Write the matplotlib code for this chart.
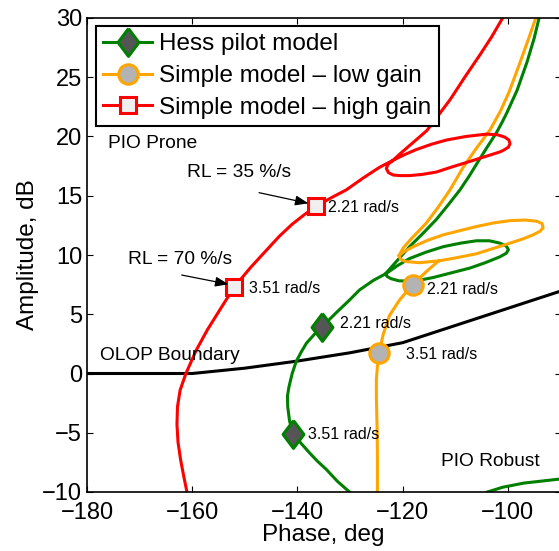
import numpy as np
import matplotlib
matplotlib.use('Agg')
import matplotlib.pyplot as plt

plt.rcParams['font.family'] = ['Liberation Sans', 'DejaVu Sans']

# Hess pilot model (phase in deg, amplitude in dB); NaN splits the pieces
hess_phase = [-130.1, -132.4, -134.5, -136.2, -137.7, -139.3, -140.8, -141.5, -141.85, -141.9,
              -141.6, -141.0, -140.25, -139.3, -138.3, -136.8, -135.3, -132.7, -130.1, -128.2,
              -125.6, -123.1, -121.0, -118.7, -115.5, -112.3, -109.0, -106.0, -103.5, -101.5,
              -100.3, -99.9, -100.3, -101.5, -104.3, -107.2, -110.7, -114.2, -116.5, -118.7,
              -120.7, -122.2, -123.0, -123.2, -121.0, -118.7, -116.2, -113.6, -111.4, -109.1,
              -107.3, -105.5, -103.8, -102.2, -101.1, -100.2, -98.25, -96.35, -95.0, -94.07,
              np.nan, -103.9, -101.0, -97.0, -90.0]
hess_amp = [-10.0, -9.1, -8.1, -7.4, -6.7, -5.9, -5.1, -4.0, -2.8, -1.9,
            -1.1, 0.0, 1.0, 1.8, 2.55, 3.3, 3.95, 5.1, 6.2, 7.05,
            7.85, 8.45, 9.1, 9.7, 10.25, 10.7, 11.0, 11.2, 11.2, 11.0,
            10.75, 10.45, 10.15, 9.85, 9.35, 8.9, 8.5, 8.1, 7.9, 7.8,
            7.82, 8.0, 8.2, 8.45, 9.55, 10.7, 11.8, 13.0, 14.2, 15.5,
            16.7, 18.0, 19.2, 20.3, 21.2, 22.0, 23.9, 26.3, 28.3, 30.0,
            np.nan, -10.0, -9.6, -9.25, -8.9]

# Simple model - low gain
low_phase = [-124.8, -124.8, -124.85, -125.0, -125.0, -124.8, -124.5, -123.7, -122.5, -120.6,
             -118.1, -115.5, -113.2, -110.0, -106.0, -102.8, -99.6, -97.2, -95.2, -93.9,
             -93.3, -93.5, -94.5, -96.8, -99.6, -102.8, -106.0, -109.2, -112.3, -115.2,
             -118.0, -119.7, -120.7, -119.9, -118.3, -117.0, -115.5, -113.3, -111.0, -108.5,
             -106.0, -103.4, -101.5, -99.77, -97.87, -96.16, -94.7,
             np.nan, -120.7, -120.4, -119.5, -116.8, -113.2]
low_amp = [-10.0, -7.0, -4.8, -2.0, -0.55, 0.6, 1.7, 3.3, 4.9, 6.2,
           7.5, 8.6, 9.5, 9.75, 10.1, 10.55, 11.0, 11.35, 11.7, 12.0,
           12.3, 12.65, 12.85, 12.95, 12.9, 12.7, 12.4, 12.05, 11.7, 11.25,
           10.7, 10.3, 9.94, 10.6, 11.4, 12.0, 12.7, 14.0, 15.5, 17.4,
           19.0, 20.55, 22.07, 23.76, 26.03, 28.14, 30.0,
           np.nan, 9.94, 9.65, 9.45, 9.35, 9.5]

# Simple model - high gain
high_phase = [-161.0, -161.6, -162.2, -162.7, -162.9, -162.8, -162.3, -161.2, -159.2, -157.1,
              -154.5, -152.0, -149.0, -145.9, -143.4, -141.0, -138.7, -136.5, -133.5, -130.7,
              -127.5, -124.4, -121.8, -119.5, -117.4, -114.5, -111.7, -108.0, -104.1, -102.0,
              -100.6, -99.8, -99.6, -99.9, -100.8, -101.5, -104.0, -107.2, -110.5, -113.6,
              -116.3, -118.7, -120.5, -121.8, -122.7, -123.1, -122.8, -121.8, -120.6, -118.0,
              -115.4, -113.2, -111.0, -108.2, -105.3, -103.1, -101.0]
high_amp = [-10.0, -8.7, -7.3, -5.8, -4.3, -2.8, -1.4, 0.0, 2.0, 3.7,
            5.55, 7.3, 8.9, 10.4, 11.6, 12.6, 13.4, 14.1, 14.85, 15.5,
            16.5, 17.4, 18.0, 18.5, 18.9, 19.35, 19.7, 20.0, 20.2, 20.15,
            19.95, 19.7, 19.4, 19.1, 18.85, 18.7, 18.35, 17.9, 17.45, 17.0,
            16.8, 16.7, 16.7, 16.75, 16.95, 17.3, 17.65, 18.0, 18.5, 19.5,
            20.5, 21.8, 23.1, 25.0, 26.9, 28.4, 30.0]

# OLOP boundary
olop_phase = [-180, -160, -150, -140, -130, -120, -90]
olop_amp = [0.0, 0.0, 0.45, 1.05, 1.75, 2.6, 6.95]

# marked frequencies
hess_mk_phase = [-135.3, -140.8]
hess_mk_amp = [3.95, -5.1]
low_mk_phase = [-118.1, -124.5]
low_mk_amp = [7.5, 1.7]
high_mk_phase = [-136.5, -152.0]
high_mk_amp = [14.1, 7.3]

GREEN = '#008000'
ORANGE = '#ffa500'
RED = '#ff0000'
diamond = [(0, 1), (0.75, 0), (0, -1), (-0.75, 0), (0, 1)]

fig = plt.figure(figsize=(5.59, 5.51), dpi=100)
ax = fig.add_axes([87 / 559, 59 / 551, 473.5 / 559, 474 / 551])

ax.plot(olop_phase, olop_amp, color='k', lw=2.2)
ax.plot(hess_phase, hess_amp, color=GREEN, lw=2.2)
ax.plot(low_phase, low_amp, color=ORANGE, lw=2.2)
ax.plot(high_phase, high_amp, color=RED, lw=2.2)

ax.plot(hess_mk_phase, hess_mk_amp, ls='none', marker=diamond, ms=20,
        mfc='#555555', mec=GREEN, mew=2.2)
ax.plot(low_mk_phase, low_mk_amp, ls='none', marker='o', ms=14,
        mfc='#b3b3b3', mec=ORANGE, mew=2.2)
ax.plot(high_mk_phase, high_mk_amp, ls='none', marker='s', ms=11,
        mfc='#efefef', mec=RED, mew=2.2)

# legend handles
h1, = ax.plot([], [], color=GREEN, lw=2.2, marker=diamond, ms=20, mfc='#555555', mec=GREEN, mew=2.2)
h2, = ax.plot([], [], color=ORANGE, lw=2.2, marker='o', ms=14, mfc='#b3b3b3', mec=ORANGE, mew=2.2)
h3, = ax.plot([], [], color=RED, lw=2.2, marker='s', ms=11, mfc='#efefef', mec=RED, mew=2.2)
leg = ax.legend([h1, h2, h3], ['Hess pilot model', 'Simple model \u2013 low gain', 'Simple model \u2013 high gain'],
                loc='upper left', bbox_to_anchor=(0.019, 0.983), borderaxespad=0, fontsize=17.5,
                fancybox=False, framealpha=1, edgecolor='k', handlelength=2.0, handletextpad=0.3,
                labelspacing=0.4, borderpad=0.3)
leg.get_frame().set_linewidth(1.5)

small = 11.5
ax.text(-134.1, 14.03, '2.21 rad/s', fontsize=small, va='center')
ax.text(-149.3, 7.19, '3.51 rad/s', fontsize=small, va='center')
ax.text(-131.9, 4.18, '2.21 rad/s', fontsize=small, va='center')
ax.text(-137.9, -5.13, '3.51 rad/s', fontsize=small, va='center')
ax.text(-115.4, 7.05, '2.21 rad/s', fontsize=small, va='center')
ax.text(-119.4, 1.62, '3.51 rad/s', fontsize=small, va='center')

mid = 13.8
ax.text(-176.0, 19.45, 'PIO Prone', fontsize=mid, va='center')
ax.text(-112.8, -7.44, 'PIO Robust', fontsize=mid, va='center')
ax.text(-177.5, 1.56, 'OLOP Boundary', fontsize=mid, va='center')
ax.text(-161.0, 17.0, 'RL = 35 %/s', fontsize=mid, va='center')
ax.text(-172.3, 9.64, 'RL = 70 %/s', fontsize=mid, va='center')

arrow = dict(arrowstyle='-|>,head_length=0.8,head_width=0.3', color='k', lw=0.9, shrinkA=0, shrinkB=0)
ax.annotate('', xy=(-137.9, 14.36), xytext=(-147.3, 15.26), arrowprops=arrow)
ax.annotate('', xy=(-153.1, 7.53), xytext=(-162.0, 8.31), arrowprops=arrow)

ax.set_xlim(-180, -90)
ax.set_ylim(-10, 30)
ax.set_xticks([-180, -160, -140, -120, -100])
ax.set_yticks(np.arange(-10, 31, 5))
ax.tick_params(direction='in', top=True, right=True, length=4.5, width=0.8, labelsize=17)
ax.tick_params(axis='x', pad=7)
ax.set_xlabel('Phase, deg', fontsize=17.5, labelpad=0)
ax.set_ylabel('Amplitude, dB', fontsize=17.5, labelpad=2)
for s in ax.spines.values():
    s.set_linewidth(1.2)

fig.savefig('out.png', dpi=100)
